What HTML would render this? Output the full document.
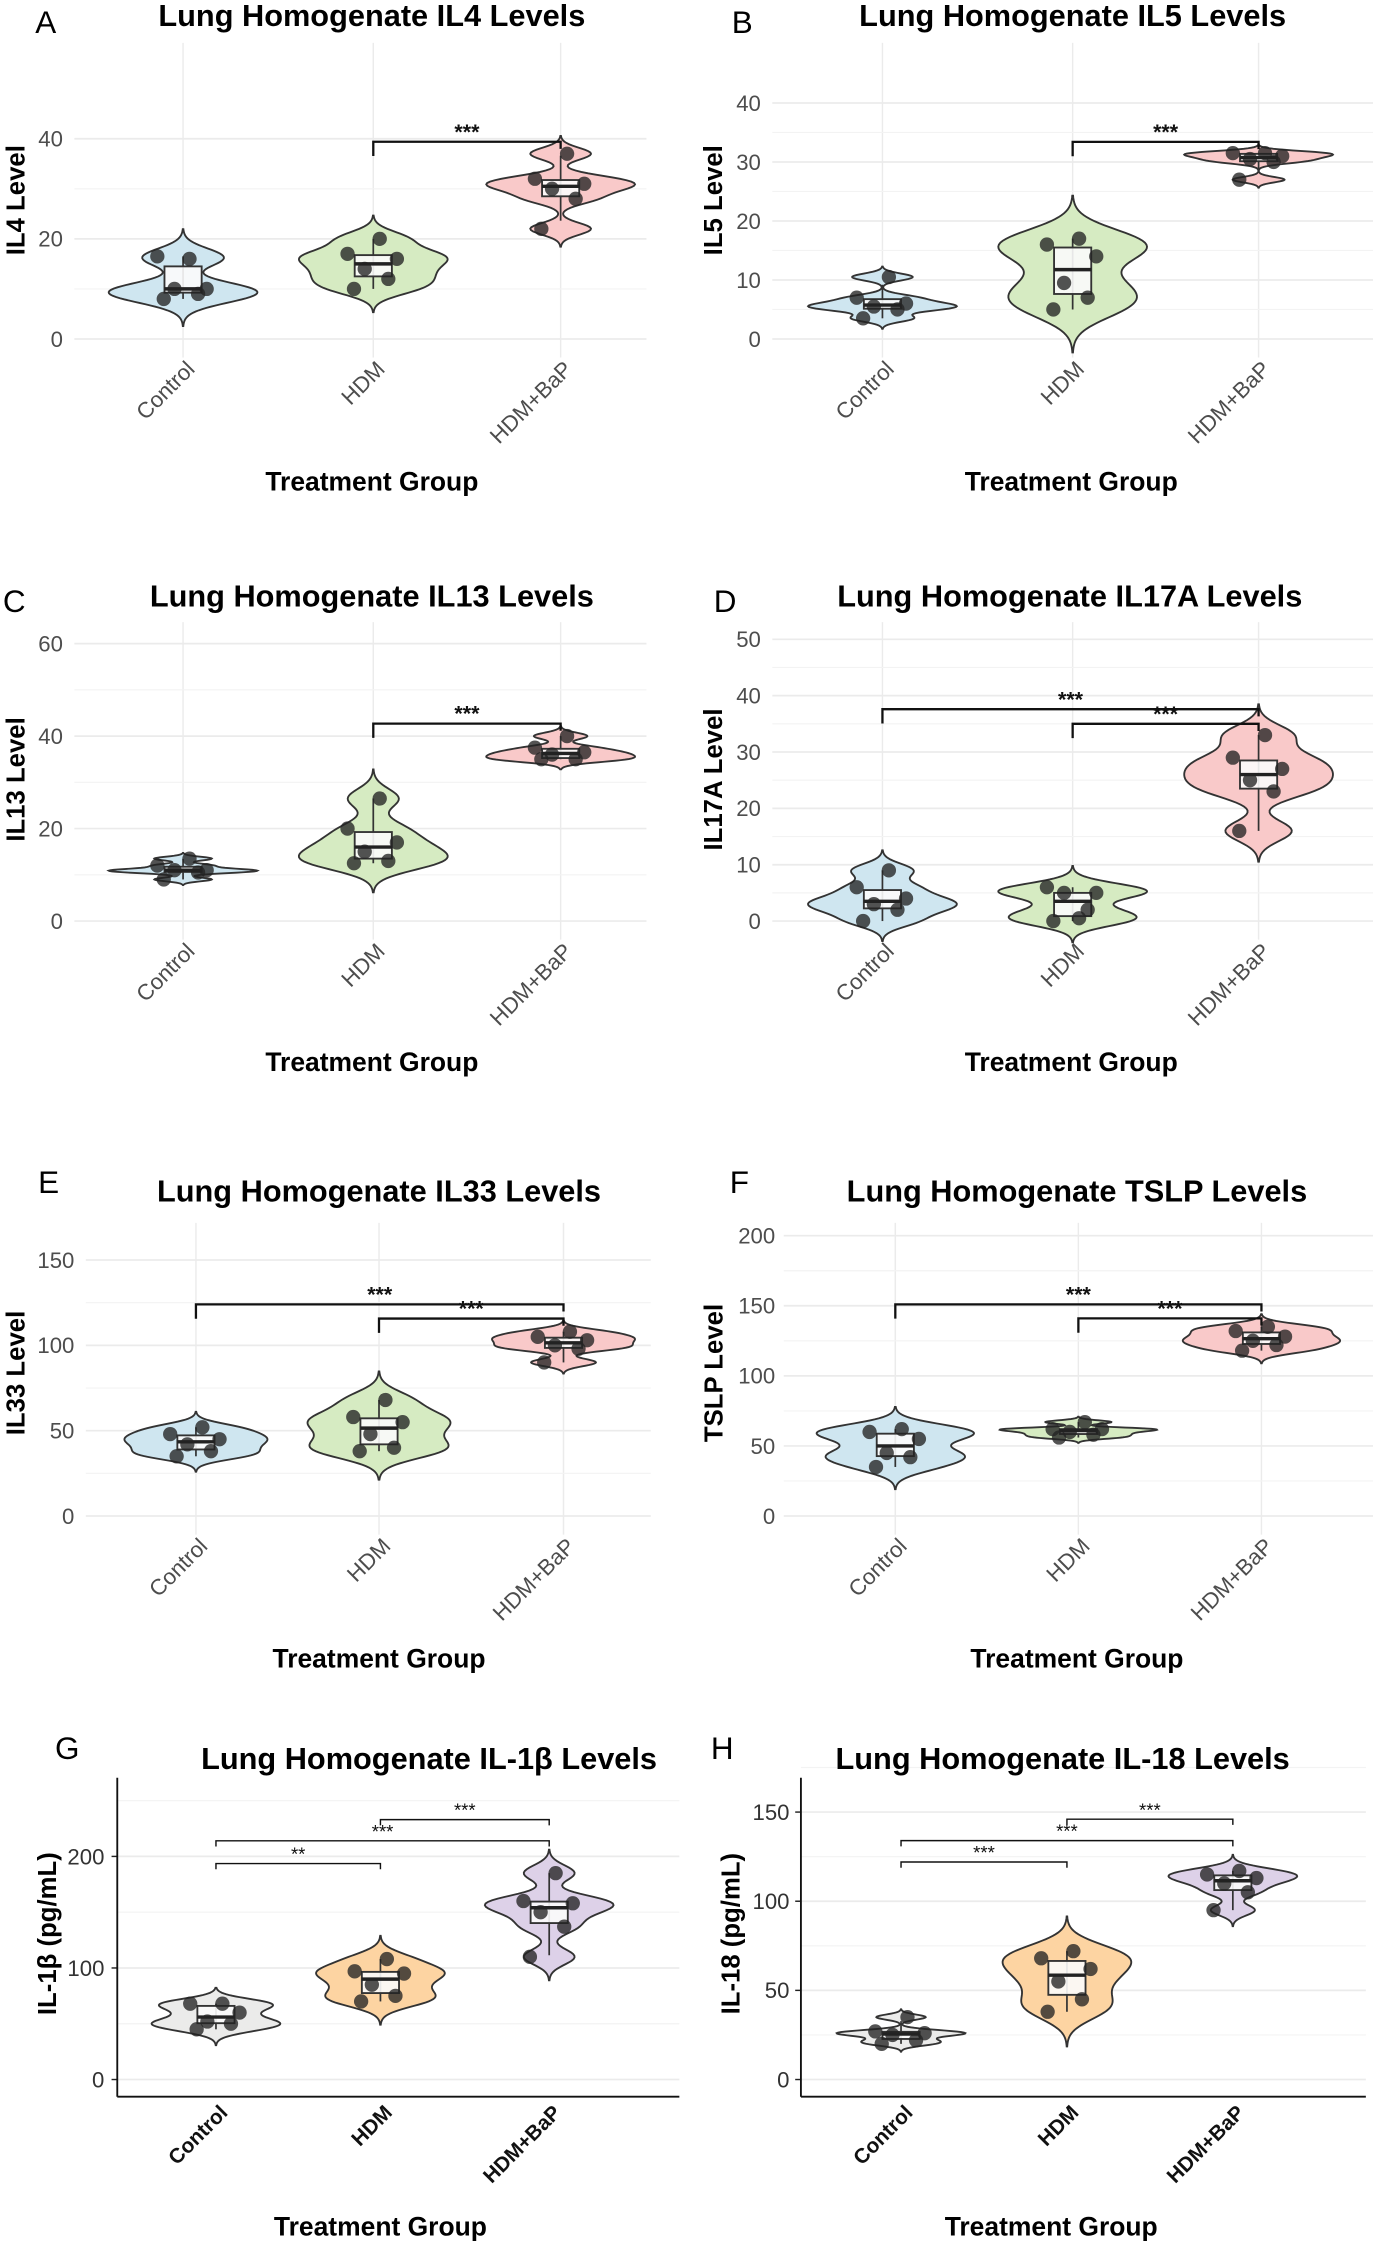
<!DOCTYPE html>
<html><head><meta charset="utf-8">
<style>
html,body{margin:0;padding:0;background:#fff;}
svg{display:block;}
text{font-family:"Liberation Sans",sans-serif;}
</style></head>
<body>
<svg id="fig" xmlns="http://www.w3.org/2000/svg" width="1373" height="2244" viewBox="0 0 960 1569" preserveAspectRatio="none"></svg>
<script>
// ---- Data ----
const categories = ["Control", "HDM", "HDM+BaP"];
const il4Control = [8, 9, 10, 10, 16.5, 16];
const il4HDM = [10, 12, 14, 16, 17, 20];
const il4BaP = [22, 28, 30, 31, 32, 37];
const il5Control = [3.5, 5, 5.5, 6, 7, 10.5];
const il5HDM = [5, 7, 9.5, 14, 16, 17];
const il5BaP = [27, 30, 30.5, 31, 31.5, 31.5];
const il13Control = [9, 10.5, 11, 11, 12, 13.5];
const il13HDM = [12.5, 13, 15, 17, 20, 26.5];
const il13BaP = [35, 35, 36, 36.5, 37.5, 40];
const il17Control = [0, 2, 3, 4, 6, 9];
const il17HDM = [0, 2, 5, 5, 6, 0.5];
const il17BaP = [16, 23, 25, 27, 29, 33];
const il33Control = [35, 38, 42, 45, 48, 52];
const il33HDM = [38, 40, 48, 55, 58, 68];
const il33BaP = [90, 98, 100, 103, 105, 108];
const tslpControl = [35, 42, 45, 55, 60, 62];
const tslpHDM = [56, 58, 60, 62, 62, 67];
const tslpBaP = [118, 122, 125, 128, 132, 135];
const il1bControl = [45, 50, 52, 60, 68, 68];
const il1bHDM = [70, 75, 85, 95, 97, 108];
const il1bBaP = [110, 137, 150, 158, 160, 185];
const il18Control = [20, 22, 25, 26, 27, 35];
const il18HDM = [38, 45, 55, 62, 68, 72];
const il18BaP = [95, 105, 110, 113, 115, 117];
const ticksA = [0, 20, 40];
const ticksB = [0, 10, 20, 30, 40];
const ticksC = [0, 20, 40, 60];
const ticksD = [0, 10, 20, 30, 40, 50];
const ticksE = [0, 50, 100, 150];
const ticksF = [0, 50, 100, 150, 200];
const ticksG = [0, 100, 200];
const ticksH = [0, 50, 100, 150];
// brackets: [fromIndex, toIndex, yValue, label]
const sigA = [[1, 2, 39.4, "***"]];
const sigB = [[1, 2, 33.4, "***"]];
const sigC = [[1, 2, 42.7, "***"]];
const sigD = [[0, 2, 37.6, "***"], [1, 2, 35, "***"]];
const sigE = [[0, 2, 124, "***"], [1, 2, 115.7, "***"]];
const sigF = [[0, 2, 151, "***"], [1, 2, 141, "***"]];
const sigG = [[0, 1, 193.6, "**"], [0, 2, 214, "***"], [1, 2, 233, "***"]];
const sigH = [[0, 1, 122, "***"], [0, 2, 134, "***"], [1, 2, 146, "***"]];

const NS = "http://www.w3.org/2000/svg";
const svg = document.getElementById("fig");
function el(tag, attrs, parent, txt) {
  const e = document.createElementNS(NS, tag);
  for (const k in attrs) e.setAttribute(k, attrs[k]);
  if (txt !== undefined) e.textContent = txt;
  (parent || svg).appendChild(e);
  return e;
}
const pastel = ["#cfe6f0", "#d6ebc2", "#f9c9c9"];
const pastel2 = ["#ebebea", "#fdd4a2", "#ddd1e8"];
const jit = [-9, 7, -4, 11, -12, 3];

function quant(arr, q) {
  const s = [...arr].sort((a, b) => a - b);
  const p = (s.length - 1) * q, lo = Math.floor(p), hi = Math.ceil(p);
  return s[lo] + (s[hi] - s[lo]) * (p - lo);
}

const panels = [
  {id:"a", letter:"A", title:"Lung Homogenate IL4 Levels", ylab:"IL4 Level", groups:[il4Control, il4HDM, il4BaP], ticks:ticksA, sig:sigA,
   y0:237, yTop:50, yTopPx:62, xs:[128,261,392], gx:[52,452], gTop:30, lx:32, ly:15, tx:260, ty:10, ylx:10, yly:140, tkx:44, tgx:260, tgy:337, classic:false, hw:52},
  {id:"b", letter:"B", title:"Lung Homogenate IL5 Levels", ylab:"IL5 Level", groups:[il5Control, il5HDM, il5BaP], ticks:ticksB, sig:sigB,
   y0:237, yTop:40, yTopPx:72, xs:[617,750,880], gx:[540,960], gTop:30, lx:519, ly:15, tx:750, ty:10, ylx:498, yly:140, tkx:532, tgx:749, tgy:337, classic:false, hw:52},
  {id:"c", letter:"C", title:"Lung Homogenate IL13 Levels", ylab:"IL13 Level", groups:[il13Control, il13HDM, il13BaP], ticks:ticksC, sig:sigC,
   y0:644, yTop:60, yTopPx:450, xs:[128,261,392], gx:[52,452], gTop:435, lx:10, ly:420, tx:260, ty:416, ylx:10, yly:545, tkx:44, tgx:260, tgy:743, classic:false, hw:52},
  {id:"d", letter:"D", title:"Lung Homogenate IL17A Levels", ylab:"IL17A Level", groups:[il17Control, il17HDM, il17BaP], ticks:ticksD, sig:sigD,
   y0:644, yTop:50, yTopPx:447, xs:[617,750,880], gx:[540,960], gTop:435, lx:507, ly:420, tx:748, ty:416, ylx:498, yly:545, tkx:532, tgx:749, tgy:743, classic:false, hw:52},
  {id:"e", letter:"E", title:"Lung Homogenate IL33 Levels", ylab:"IL33 Level", groups:[il33Control, il33HDM, il33BaP], ticks:ticksE, sig:sigE,
   y0:1060, yTop:150, yTopPx:881, xs:[137,265,394], gx:[60,455], gTop:855, lx:34, ly:826, tx:265, ty:832, ylx:10, yly:960, tkx:52, tgx:265, tgy:1160, classic:false, hw:50},
  {id:"f", letter:"F", title:"Lung Homogenate TSLP Levels", ylab:"TSLP Level", groups:[tslpControl, tslpHDM, tslpBaP], ticks:ticksF, sig:sigF,
   y0:1060, yTop:200, yTopPx:864, xs:[626,754,882], gx:[548,960], gTop:855, lx:517, ly:826, tx:753, ty:832, ylx:498, yly:960, tkx:542, tgx:753, tgy:1160, classic:false, hw:55},
  {id:"g", letter:"G", title:"Lung Homogenate IL-1β Levels", ylab:"IL-1β (pg/mL)", groups:[il1bControl, il1bHDM, il1bBaP], ticks:ticksG, sig:sigG,
   y0:1454, yTop:200, yTopPx:1298, xs:[151,266,384], gx:[82,475], gTop:1243, lx:47, ly:1222, tx:300, ty:1229, ylx:32, yly:1352, tkx:73, tgx:266, tgy:1557, classic:true, hw:45},
  {id:"h", letter:"H", title:"Lung Homogenate IL-18 Levels", ylab:"IL-18 (pg/mL)", groups:[il18Control, il18HDM, il18BaP], ticks:ticksH, sig:sigH,
   y0:1454, yTop:150, yTopPx:1267, xs:[630,746,862], gx:[560,955], gTop:1243, lx:505, ly:1222, tx:743, ty:1229, ylx:510, yly:1352, tkx:552, tgx:735, tgy:1557, classic:true, hw:45}
];

panels.forEach(p => {
  const g = el("g", {});
  
  
  const yScale = v => p.y0 - (v / p.yTop) * (p.y0 - p.yTopPx);
  const step = p.ticks[1] - p.ticks[0];
  const gBottom = p.classic ? p.y0 + 12 : p.y0 + 13;
  if (!p.classic) {
    p.xs.forEach(x => {
      const l = el("line", {x1:x, x2:x, y1:p.gTop, y2:gBottom, stroke:"#ebebeb", "stroke-width":1}, g);
      
      
    });
  }
  const maxT = p.ticks[p.ticks.length - 1];
  for (let v = 0; v <= maxT + 0.001 + (p.classic ? step/2 : 0); v += step / 2) {
    const major = Math.abs(v / step - Math.round(v / step)) < 0.01;
    const l = el("line", {x1:p.gx[0], x2:p.gx[1], y1:yScale(v), y2:yScale(v), stroke: major ? "#ebebeb" : "#f3f3f3", "stroke-width": major ? 1.2 : 0.8}, g);
    
    
  }
  p.ticks.forEach(t => {
    const tx = el("text", {x:p.tkx, y:yScale(t) + 5.5, "text-anchor":"end", "font-size":15.5, fill: p.classic ? "#333" : "#4d4d4d"}, g, String(t));
    
    
    if (p.classic) {
      const tk = el("line", {x1:p.gx[0]-4, x2:p.gx[0], y1:yScale(t), y2:yScale(t), stroke:"#222", "stroke-width":1}, g);
      
      
    }
  });
  if (p.classic) {
    const ay = el("line", {x1:p.gx[0], x2:p.gx[0], y1:p.gTop, y2:p.y0 + 12, stroke:"#111", "stroke-width":1.3}, g);
    
    
    const ax = el("line", {x1:p.gx[0], x2:p.gx[1], y1:p.y0 + 12, y2:p.y0 + 12, stroke:"#111", "stroke-width":1.3}, g);
    
    
  }
  p.groups.forEach((d, i) => {
    const cx = p.xs[i];
    const n = d.length;
    const mean = d.reduce((a, b) => a + b, 0) / n;
    const sd = Math.sqrt(d.reduce((a, b) => a + (b - mean) ** 2, 0) / (n - 1)) || 1;
    const iqr = quant(d, 0.75) - quant(d, 0.25);
    const bw = 0.7 * Math.min(sd, (iqr || sd) / 1.34) * Math.pow(n, -0.2);
    const lo = Math.min(...d) - 3 * bw, hi = Math.max(...d) + 3 * bw;
    const pts = [];
    let maxD = 0;
    for (let k = 0; k <= 80; k++) {
      const v = lo + (hi - lo) * k / 80;
      let s = 0;
      d.forEach(x => { s += Math.exp(-0.5 * ((v - x) / bw) ** 2); });
      pts.push([v, s]);
      if (s > maxD) maxD = s;
    }
    let path = "";
    pts.forEach(([v, s], k) => { path += (k ? "L" : "M") + (cx + s / maxD * p.hw).toFixed(2) + "," + yScale(v).toFixed(2); });
    for (let k = pts.length - 1; k >= 0; k--) { const [v, s] = pts[k]; path += "L" + (cx - s / maxD * p.hw).toFixed(2) + "," + yScale(v).toFixed(2); }
    path += "Z";
    const vio = el("path", {d:path, fill:(p.classic ? pastel2 : pastel)[i], stroke:"#333", "stroke-width":1.3}, g);
    
    
    const q1 = quant(d, 0.25), q2 = quant(d, 0.5), q3 = quant(d, 0.75);
    const wl = Math.max(Math.min(...d), q1 - 1.5 * (q3 - q1)), wh = Math.min(Math.max(...d), q3 + 1.5 * (q3 - q1));
    const bwPx = 13;
    const wh1 = el("line", {x1:cx, x2:cx, y1:yScale(wh), y2:yScale(wl), stroke:"#333", "stroke-width":1.2}, g);
    
    
    const box = el("rect", {x:cx - bwPx, y:yScale(q3), width:bwPx * 2, height:Math.max(1, yScale(q1) - yScale(q3)), fill:"#fbfbfb", "fill-opacity":0.9, stroke:"#333", "stroke-width":1.3}, g);
    
    
    const med = el("line", {x1:cx - bwPx, x2:cx + bwPx, y1:yScale(q2), y2:yScale(q2), stroke:"#222", "stroke-width":2.4}, g);
    
    
    d.forEach((v, k) => {
      const c = el("circle", {cx:cx + jit[k % jit.length] * 1.5, cy:yScale(v), r:5, fill:"#222", "fill-opacity":0.78}, g);
      
      
    });
  });
  p.sig.forEach(([a, b, v, lab]) => {
    const y = yScale(v);
    const x1 = p.xs[a], x2 = p.xs[b];
    const leftDrop = p.classic ? 4 : 10;
    const br = el("path", {d:`M${x1},${y + leftDrop}L${x1},${y}L${x2},${y}L${x2},${y + (p.classic ? 4 : 5)}`, fill:"none", stroke:"#111", "stroke-width": p.classic ? 1 : 1.6}, g);
    
    
    const st = el("text", {x:(x1 + x2) / 2, y:y - 2, "text-anchor":"middle", "font-size": p.classic ? 13 : 15, "font-weight": p.classic ? "normal" : "bold", fill:"#111"}, g, lab);
    
    
  });
  p.xs.forEach((x, i) => {
    const ty = p.y0 + (p.classic ? 24 : 22);
    const t = el("text", {x:x + 9, y:ty, "text-anchor":"end", "font-size": p.classic ? 14.5 : 15.5, "font-weight": p.classic ? "bold" : "normal", fill: p.classic ? "#111" : "#4d4d4d", transform:`rotate(-45 ${x + 9} ${ty})`}, g, categories[i]);
    
    
  });
  const title = el("text", {x:p.tx, y:p.ty + 8, "text-anchor":"middle", "font-size":21.5, "font-weight":"bold", fill:"#000"}, g, p.title);
  
  
  const letter = el("text", {x:p.lx, y:p.ly + 8, "text-anchor":"middle", "font-size":22, fill:"#000"}, g, p.letter);
  
  
  const yl = el("text", {x:p.ylx + 7, y:p.yly, "text-anchor":"middle", "font-size":18, "font-weight":"bold", fill:"#000", transform:`rotate(-90 ${p.ylx + 7} ${p.yly})`}, g, p.ylab);
  
  
  const xl = el("text", {x:p.tgx, y:p.tgy + 6, "text-anchor":"middle", "font-size":18.5, "font-weight":"bold", fill:"#000"}, g, "Treatment Group");
  
  
});
</script>
</body></html>
